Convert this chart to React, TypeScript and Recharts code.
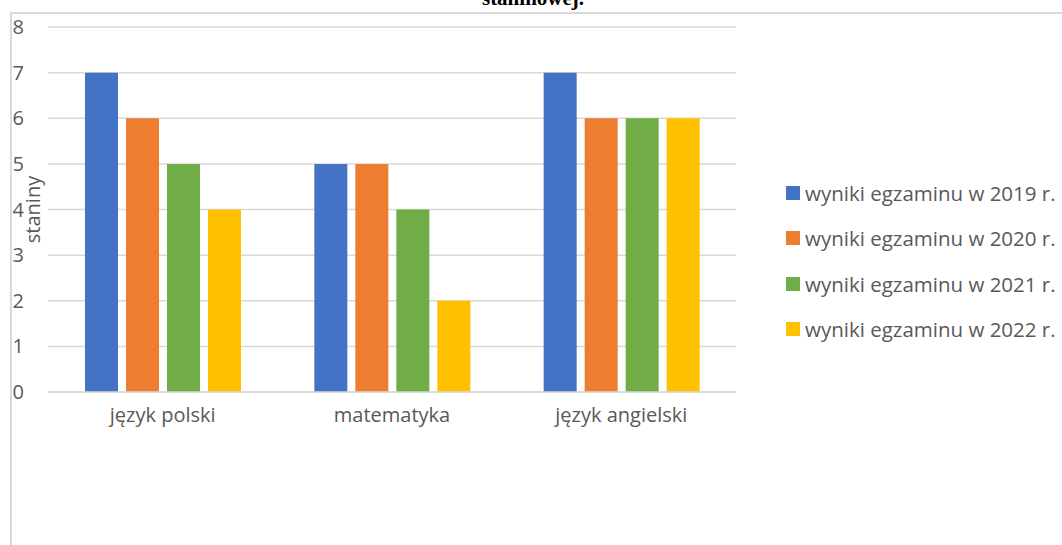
import { BarChart, Bar, XAxis, YAxis, CartesianGrid } from "recharts";

const subjects = ["język polski", "matematyka", "język angielski"];
const results2019 = [7, 5, 7];
const results2020 = [6, 5, 6];
const results2021 = [5, 4, 6];
const results2022 = [4, 2, 6];
const seriesNames = [
  "wyniki egzaminu w 2019 r.",
  "wyniki egzaminu w 2020 r.",
  "wyniki egzaminu w 2021 r.",
  "wyniki egzaminu w 2022 r.",
];
const seriesColors = ["#4472C4", "#ED7D31", "#70AD47", "#FFC000"];
const yTicks = [0, 1, 2, 3, 4, 5, 6, 7, 8];

const data = subjects.map((name, i) => ({
  name,
  s2019: results2019[i],
  s2020: results2020[i],
  s2021: results2021[i],
  s2022: results2022[i],
}));
const keys = ["s2019", "s2020", "s2021", "s2022"];

const font = "'Open Sans', Lato, sans-serif";
const fs = 20;

function LegendBox() {
  return (
    <div style={{ fontFamily: font, fontSize: 20.5, color: "#595959" }}>
      {seriesNames.map((n, i) => (
        <div
          key={n}
          style={{ display: "flex", alignItems: "center", height: 45.5 }}
        >
          <span
            style={{
              width: 14,
              height: 14,
              background: seriesColors[i],
              marginRight: 5,
              display: "inline-block",
              flexShrink: 0,
            }}
          />
          <span style={{ whiteSpace: "nowrap" }}>{n}</span>
        </div>
      ))}
    </div>
  );
}

export default function App() {
  return (
    <div style={{ position: "relative", width: 1062, height: 545, overflow: "hidden", background: "#fff" }}>
      <style>{`body{margin:0}`}</style>
      {/* title of the document, cut at the top like in the scan */}
      <div
        style={{
          position: "absolute",
          left: 0,
          width: 1062,
          top: -14,
          textAlign: "center",
          fontFamily: "'Liberation Serif', 'Times New Roman', serif",
          fontWeight: "bold",
          fontSize: 21,
          paddingLeft: 2,
        }}
      >
        staninowej.
      </div>
      <div
        style={{
          position: "absolute",
          left: 10,
          top: 12,
          width: 1100,
          height: 600,
          borderTop: "2px solid #d9d9d9",
          borderLeft: "2px solid #d9d9d9",
        }}
      />
      <div style={{ position: "absolute", left: 0, top: 0 }}>
        <BarChart
          width={1062}
          height={545}
          data={data}
          margin={{ top: 27, right: 326, bottom: 123, left: 0 }}
          barSize={33}
          barGap={8}
        >
          <CartesianGrid vertical={false} stroke="#d9d9d9" strokeWidth={1.5} />
          <XAxis
            dataKey="name"
            height={30}
            tickLine={false}
            tickSize={0}
            tickMargin={16}
            stroke="#d9d9d9"
            strokeWidth={1.5}
            tick={{ fill: "#595959", fontSize: fs, fontFamily: font }}
          />
          <YAxis
            width={48}
            domain={[0, 8]}
            ticks={yTicks}
            axisLine={false}
            tickLine={false}
            tickSize={0}
            tickMargin={24}
            tick={{ fill: "#595959", fontSize: fs, fontFamily: font }}
            label={{
              value: "staniny",
              angle: -90,
              position: "center",
              dx: 9,
              fill: "#595959",
              fontSize: fs,
              fontFamily: font,
            }}
          />
          {keys.map((k, i) => (
            <Bar
              key={k}
              dataKey={k}
              name={seriesNames[i]}
              fill={seriesColors[i]}
              isAnimationActive={false}
            />
          ))}
        </BarChart>
      </div>
      <div style={{ position: "absolute", left: 786, top: 170 }}>
        <LegendBox />
      </div>
    </div>
  );
}
